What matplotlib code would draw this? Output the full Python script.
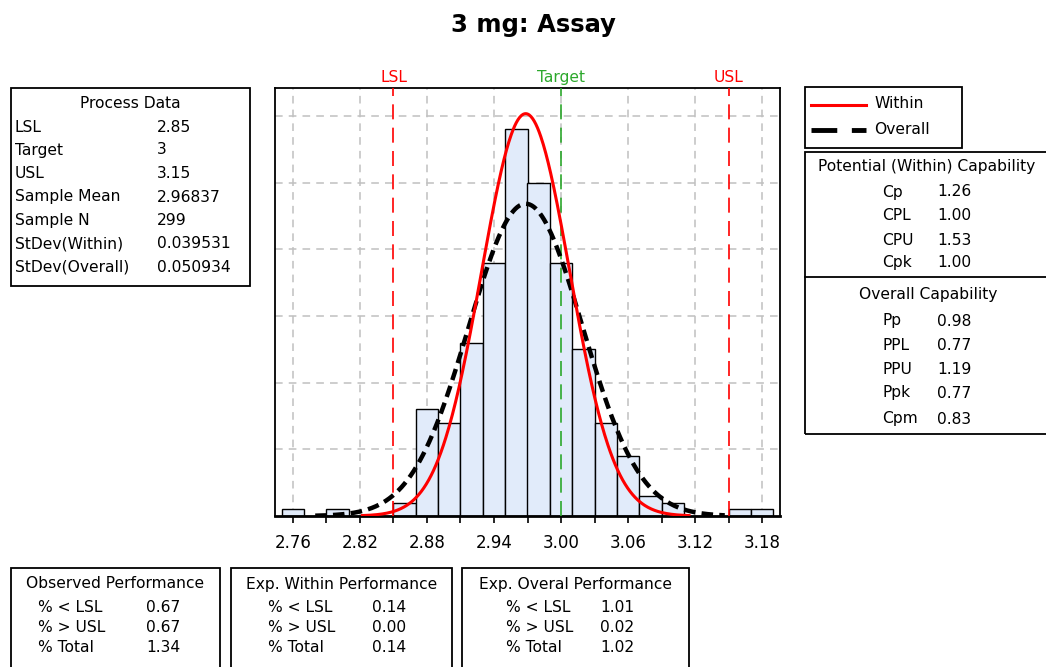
import numpy as np
import matplotlib
matplotlib.use("Agg")
import matplotlib.pyplot as plt
from matplotlib.patches import Rectangle
from matplotlib.lines import Line2D

# ---------------- data ----------------
title = "3 mg: Assay"
bin_mids = [2.76, 2.78, 2.80, 2.82, 2.84, 2.86, 2.88, 2.90, 2.92, 2.94, 2.96,
            2.98, 3.00, 3.02, 3.04, 3.06, 3.08, 3.10, 3.12, 3.14, 3.16, 3.18]
bin_counts = [1, 0, 1, 0, 0, 2, 16, 14, 26, 38, 58,
              50, 38, 25, 14, 9, 3, 2, 0, 0, 1, 1]
bin_width = 0.02
lsl, target, usl = 2.85, 3.00, 3.15
sample_mean = 2.96837
sample_n = 299
sd_within = 0.039531
sd_overall = 0.050934
xtick_vals = [2.76, 2.79, 2.82, 2.85, 2.88, 2.91, 2.94, 2.97, 3.00, 3.03,
              3.06, 3.09, 3.12, 3.15, 3.18]
xtick_labels = ["2.76", "", "2.82", "", "2.88", "", "2.94", "", "3.00", "",
                "3.06", "", "3.12", "", "3.18"]
ygrid_vals = [10, 20, 30, 40, 50, 60]

process_labels = ["LSL", "Target", "USL", "Sample Mean", "Sample N",
                  "StDev(Within)", "StDev(Overall)"]
process_values = ["2.85", "3", "3.15", "2.96837", "299", "0.039531", "0.050934"]
within_labels = ["Cp", "CPL", "CPU", "Cpk"]
within_values = ["1.26", "1.00", "1.53", "1.00"]
overall_labels = ["Pp", "PPL", "PPU", "Ppk", "Cpm"]
overall_values = ["0.98", "0.77", "1.19", "0.77", "0.83"]
perf_labels = ["% < LSL", "% > USL", "% Total"]
obs_values = ["0.67", "0.67", "1.34"]
expw_values = ["0.14", "0.00", "0.14"]
expo_values = ["1.01", "0.02", "1.02"]

# ---------------- figure ----------------
W, H = 1046, 667
plt.rcParams['font.family'] = ['DejaVu Sans']
fig = plt.figure(figsize=(W / 100, H / 100), dpi=100)

def fx(p):
    return p / W

def fy(p):
    return 1 - p / H

FS = 11.2

# main axes
L, R, T, B = 275, 780, 88, 516
ax = fig.add_axes([fx(L), fy(B), (R - L) / W, (B - T) / H])
ax.set_xlim(2.7439, 3.1961)
ax.set_ylim(0, 64.2)

grid_kw = dict(color="#c0c0c0", lw=1.1, linestyle=(0, (5, 4)), zorder=0)
for gy in ygrid_vals:
    ax.axhline(gy, **grid_kw)
for v, lab in zip(xtick_vals, xtick_labels):
    if lab:
        ax.axvline(v, **grid_kw)

ax.bar(bin_mids, bin_counts, width=bin_width, color="#e1ebfa",
       edgecolor="black", linewidth=1.0, zorder=2)

scale = sample_n * bin_width
xs_w = np.linspace(sample_mean - 3.7 * sd_within, sample_mean + 3.7 * sd_within, 400)
ys_w = scale * np.exp(-0.5 * ((xs_w - sample_mean) / sd_within) ** 2) / (sd_within * np.sqrt(2 * np.pi))
xs_o = np.linspace(sample_mean - 3.7 * sd_overall, sample_mean + 3.5 * sd_overall, 400)
ys_o = scale * np.exp(-0.5 * ((xs_o - sample_mean) / sd_overall) ** 2) / (sd_overall * np.sqrt(2 * np.pi))
ax.plot(xs_o, ys_o, color="black", lw=3.2, linestyle=(0, (2.6, 1.4)), zorder=4)
ax.plot(xs_w, ys_w, color="#ff0000", lw=2.2, zorder=5)

spec_kw = dict(lw=1.2, linestyle=(0, (9, 5)), zorder=3)
ax.axvline(lsl, color="#ff0000", **spec_kw)
ax.axvline(usl, color="#ff0000", **spec_kw)
ax.axvline(target, color="#2ca82c", **spec_kw)
for v, name, c in [(lsl, "LSL", "#ff0000"), (target, "Target", "#2ca82c"),
                   (usl, "USL", "#ff0000")]:
    ax.text(v, 64.2 + 0.4, name, color=c, ha="center", va="bottom",
            fontsize=FS, clip_on=False)

ax.set_xticks(xtick_vals)
ax.set_xticklabels(xtick_labels, fontsize=12)
ax.set_yticks([])
ax.tick_params(axis="x", direction="out", length=5, width=1.2, pad=8)
for s in ax.spines.values():
    s.set_linewidth(1.3)
ax.spines["bottom"].set_linewidth(2.0)

# title
fig.text(fx(533), fy(25), title, ha="center", va="center", fontsize=17.5,
         fontweight="bold")

def box(x0, y0, x1, y1, lw=1.3):
    fig.add_artist(Rectangle((fx(x0), fy(y1)), (x1 - x0) / W, (y1 - y0) / H,
                             transform=fig.transFigure, fill=False,
                             lw=lw, ec="black", clip_on=False))

def txt(x, y, s, ha="left"):
    fig.text(fx(x), fy(y), s, ha=ha, va="center", fontsize=FS)

# Process data box
box(11, 88, 250, 286)
txt(130, 103, "Process Data", ha="center")
prow = [127, 150, 173, 197, 221, 244, 267]
for y, lab, val in zip(prow, process_labels, process_values):
    txt(15, y, lab)
    txt(157, y, val)

# legend box
box(805, 87, 962, 148)
fig.add_artist(Line2D([fx(811), fx(866)], [fy(105), fy(105)], color="#ff0000",
                      lw=2.2, transform=fig.transFigure))
fig.add_artist(Line2D([fx(811), fx(866)], [fy(130), fy(130)], color="black",
                      lw=3.5, linestyle=(0, (5.3, 3)), transform=fig.transFigure))
txt(874, 104, "Within")
txt(874, 129, "Overall")

# capability box
box(805, 152, 1050, 434)
fig.add_artist(Line2D([fx(805), fx(1046)], [fy(277), fy(277)], color="black",
                      lw=1.3, transform=fig.transFigure))
txt(927, 167, "Potential (Within) Capability", ha="center")
for y, lab, val in zip([192, 216, 240, 263], within_labels, within_values):
    txt(882, y, lab)
    txt(937, y, val)
txt(928, 294, "Overall Capability", ha="center")
for y, lab, val in zip([321, 346, 370, 393, 419], overall_labels, overall_values):
    txt(882, y, lab)
    txt(937, y, val)

# performance boxes
perf_rows = [607, 628, 647]
for (x0, x1, tl, lx, vx, vals) in [
        (11, 220, "Observed Performance", 38, 146, obs_values),
        (231, 452, "Exp. Within Performance", 268, 372, expw_values),
        (462, 689, "Exp. Overal Performance", 506, 600, expo_values)]:
    box(x0, 568, x1, 672)
    txt((x0 + x1) / 2, 584, tl, ha="center")
    for y, lab, val in zip(perf_rows, perf_labels, vals):
        txt(lx, y, lab)
        txt(vx, y, val)

fig.savefig("out.png", dpi=100)
